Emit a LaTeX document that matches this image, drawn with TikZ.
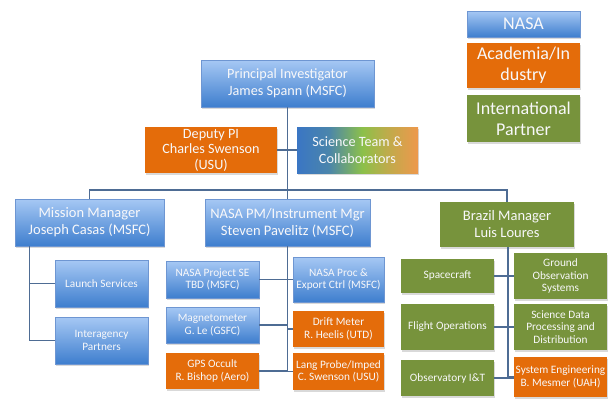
\documentclass[tikz,border=0pt]{standalone}
\usepackage{fontspec}
\setmainfont{Carlito}
\usetikzlibrary{shadows}
\definecolor{bluetop}{RGB}{166,200,244}
\definecolor{bluebot}{RGB}{62,126,206}
\definecolor{blueedge}{RGB}{110,150,210}
\definecolor{orangec}{RGB}{228,108,10}
\definecolor{greenc}{RGB}{119,147,60}
\definecolor{linec}{RGB}{78,108,148}
\definecolor{sblue}{RGB}{58,118,196}
\definecolor{sgreen}{RGB}{140,192,74}
\definecolor{sorange}{RGB}{238,152,76}
\definecolor{txt}{RGB}{248,248,250}
\pgfdeclarehorizontalshading{scigrad}{100bp}{color(0bp)=(sblue); color(25bp)=(sblue); color(38bp)=(sblue!80!sgreen); color(52bp)=(sgreen); color(62bp)=(sgreen!50!sorange); color(75bp)=(sorange); color(100bp)=(sorange)}
\tikzset{
  box/.style={rectangle, align=center, text=txt, inner sep=0.5pt,
    drop shadow={shadow xshift=1.2pt, shadow yshift=-1.5pt, opacity=0.3}},
  nasa/.style={box, top color=bluetop, bottom color=bluebot, draw=blueedge, line width=0.4pt},
  acad/.style={box, fill=orangec},
  intl/.style={box, fill=greenc},
  sci/.style={box, shading=scigrad},
  sz/.style 2 args={minimum width=#1pt, minimum height=#2pt},
  big/.style={font=\fontsize{14.5}{17}\selectfont},
  mid/.style={font=\fontsize{14.2}{17}\selectfont},
  tight/.style={font=\fontsize{14.2}{15.5}\selectfont},
  small/.style={font=\fontsize{11.3}{12.6}\selectfont},
  leg/.style={font=\fontsize{18}{21}\selectfont},
  conn/.style={draw=linec, line width=1.1pt},
}
\begin{document}
\begin{tikzpicture}[x=1pt,y=-1pt]
\useasboundingbox (0,0) rectangle (611,399);
% legend
\node[nasa, leg, sz={113}{26}] (lnasa) at (523.5,24) {NASA};
\node[acad, leg, sz={113}{45}] (lacad) at (523.5,65.5) {Academia/In\\dustry};
\node[intl, leg, sz={113}{47}] (lintl) at (523.5,118.5) {International\\Partner};
% top
\node[nasa, mid, sz={173}{47}] (pi) at (287.5,83.5) {Principal Investigator\\James Spann (MSFC)};
\node[acad, tight, sz={132}{46}] (dep) at (211,150) {Deputy PI\\Charles Swenson\\(USU)};
\node[sci, mid, sz={121}{46}] (sci) at (357.5,150) {Science Team \&\\Collaborators};
% managers
\node[nasa, big, sz={149}{47}] (mm) at (89.5,222.5) {Mission Manager\\Joseph Casas (MSFC)};
\node[nasa, big, sz={165}{47}] (pm) at (287.5,222.5) {NASA PM/Instrument Mgr\\Steven Pavelitz (MSFC)};
\node[intl, big, sz={134}{45}] (br) at (507,224.5) {Brazil Manager\\Luis Loures};
% mission manager children
\node[nasa, small, sz={93}{47}] (launch) at (101.5,283.5) {Launch Services};
\node[nasa, small, sz={93}{47}] (inter) at (101.5,340.5) {Interagency\\Partners};
% PM children
\node[nasa, small, sz={93}{37}] (se) at (212.5,279.5) {NASA Project SE\\TBD (MSFC)};
\node[nasa, small, sz={93}{36}] (mag) at (212.5,325) {Magnetometer\\G. Le (GSFC)};
\node[acad, small, sz={93}{36}] (gps) at (212.5,371) {GPS Occult\\R. Bishop (Aero)};
\node[nasa, small, sz={91}{45}] (proc) at (338.5,279.5) {NASA Proc \&\\Export Ctrl (MSFC)};
\node[acad, small, sz={91}{36}] (drift) at (338.5,329) {Drift Meter\\R. Heelis (UTD)};
\node[acad, small, sz={91}{37}] (lang) at (338.5,371.5) {Lang Probe/Imped\\C. Swenson (USU)};
% Brazil children
\node[intl, small, sz={93}{34}] (sc) at (447.5,276) {Spacecraft};
\node[intl, small, sz={93}{46}] (fo) at (447.5,327) {Flight Operations};
\node[intl, small, sz={93}{36}] (obs) at (447.5,378) {Observatory I\&T};
\node[intl, small, sz={93}{46}] (gnd) at (560.5,276) {Ground\\Observation\\Systems};
\node[intl, small, sz={93}{46}] (sd) at (560.5,327) {Science Data\\Processing and\\Distribution};
\node[acad, small, sz={93}{40}] (sys) at (560.5,377) {System Engineering\\B. Mesmer (UAH)};
% connectors
\coordinate (bus) at (287.5,190);
\draw[conn] (pi.south) -- (pm.north);
\draw[conn] (dep.east) -- (sci.west);
\draw[conn] (mm.north) |- (bus) -| (br.north);
\draw[conn] ([xshift=15pt]mm.south west) |- (launch.west);
\draw[conn] ([xshift=15pt]mm.south west) |- (inter.west);
\draw[conn] (pm.south) |- (gps.east);
\draw[conn] (se.east) -- (proc.west);
\draw[conn] (mag.east) -- (mag.east -| pm.south);
\draw[conn] (drift.west) -- (drift.west -| pm.south);
\draw[conn] (lang.west) -- (lang.west -| pm.south);
\draw[conn] ([xshift=1pt]br.south) |- (sys.west);
\draw[conn] (sc.east) -- (gnd.west);
\draw[conn] (fo.east) -- (sd.west);
\draw[conn] (obs.east) -- (obs.east -| sys.west);
\end{tikzpicture}
\end{document}
